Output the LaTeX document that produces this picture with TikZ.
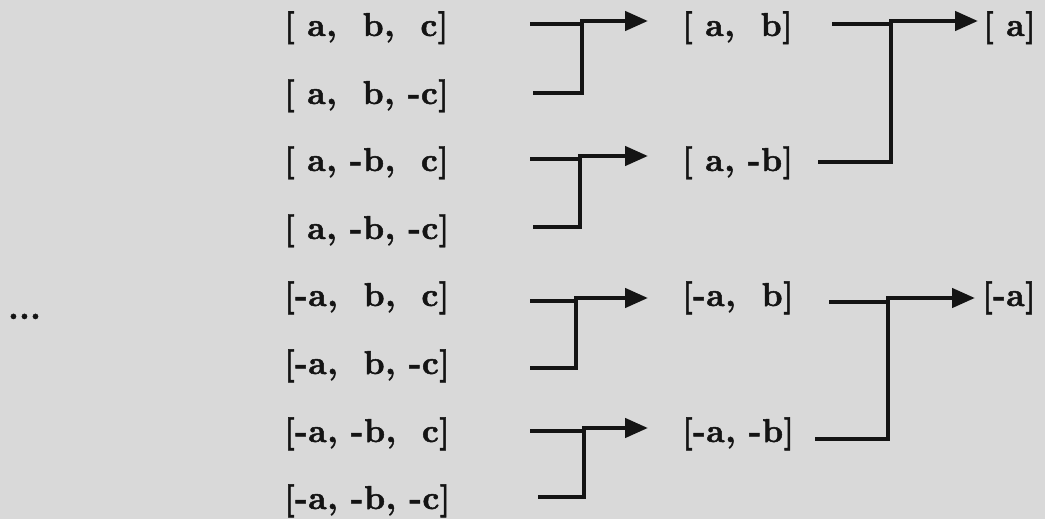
\documentclass[tikz,border=0pt]{standalone}
\usepackage{fontspec}
\usetikzlibrary{arrows.meta}
\newfontfamily\lblfont[LetterSpace=1.5,FakeBold=1.5]{lmroman10-bold.otf}
\newcommand\sgap{\phantom{-}}
\definecolor{paper}{RGB}{217,217,217}
\definecolor{ink}{RGB}{20,20,20}
\tikzset{
  lbl/.style={inner sep=0pt, anchor=base west, text=ink, font=\lblfont\fontsize{33}{33}\selectfont},
  ln/.style={draw=ink, line width=4pt, line join=miter},
  arr/.style={draw=ink, line width=4.5pt, -{Triangle[length=23pt,width=19pt]}}
}
\begin{document}
\begin{tikzpicture}[x=1pt,y=-1pt]
\fill[paper] (0,0) rectangle (1045,519);
\useasboundingbox (0,0) rectangle (1045,519);
% left column
\node[lbl] (l1) at (284,36)  {[\sgap a, \sgap b, \sgap c]};
\node[lbl] (l2) at (284,104) {[\sgap a, \sgap b, -c]};
\node[lbl] (l3) at (284,171) {[\sgap a, -b, \sgap c]};
\node[lbl] (l4) at (284,239) {[\sgap a, -b, -c]};
\node[lbl] (l5) at (284,306) {[-a, \sgap b, \sgap c]};
\node[lbl] (l6) at (284,374) {[-a, \sgap b, -c]};
\node[lbl] (l7) at (284,442) {[-a, -b, \sgap c]};
\node[lbl] (l8) at (284,509) {[-a, -b, -c]};
\node[lbl] (dots) at (8,319) {...};
% middle column
\node[lbl] (m1) at (682,36)  {[\sgap a, \sgap b]};
\node[lbl] (m2) at (682,171) {[\sgap a, -b]};
\node[lbl] (m3) at (682,306) {[-a, \sgap b]};
\node[lbl] (m4) at (682,442) {[-a, -b]};
% right column
\node[lbl] (r1) at (983,36)  {[\sgap a]};
\node[lbl] (r2) at (982,306) {[-a]};
% stage 1 coordinates
\coordinate (s1) at (530,24);  \coordinate (j1) at (582,24);  \coordinate (k1) at (582,21);
\coordinate (u1) at (533,93);  \coordinate (c1) at (582,93);
\coordinate (s2) at (530,159); \coordinate (j2) at (580,159); \coordinate (k2) at (580,156);
\coordinate (u2) at (533,227); \coordinate (c2) at (580,227);
\coordinate (s3) at (530,301); \coordinate (j3) at (576,301); \coordinate (k3) at (576,298);
\coordinate (u3) at (530,368); \coordinate (c3) at (576,368);
\coordinate (s4) at (530,431); \coordinate (j4) at (584,431); \coordinate (k4) at (584,428);
\coordinate (u4) at (538,497); \coordinate (c4) at (584,497);
% stage 2 coordinates
\coordinate (s5) at (832,24);  \coordinate (j5) at (891,24);  \coordinate (k5) at (891,21);
\coordinate (u5) at (818,162); \coordinate (c5) at (891,162);
\coordinate (s6) at (829,302); \coordinate (j6) at (888,302); \coordinate (k6) at (888,298);
\coordinate (u6) at (815,439); \coordinate (c6) at (888,439);
% stage 1 connectors
\foreach \i/\m in {1/m1,2/m2,3/m3,4/m4}{
  \draw[ln] (s\i) -- (j\i);
  \draw[ln] (u\i) -- (c\i) -- (k\i);
  \draw[arr, shorten >=34pt] ([xshift=-2pt]k\i) -- (k\i -| \m.west);
}
% stage 2 connectors
\draw[ln] (s5) -- (j5);
\draw[ln] (u5) -- (c5) -- (k5);
\draw[arr, shorten >=5pt] ([xshift=-2pt]k5) -- (k5 -| r1.west);
\draw[ln] (s6) -- (j6);
\draw[ln] (u6) -- (c6) -- (k6);
\draw[arr, shorten >=7pt] ([xshift=-2pt]k6) -- (k6 -| r2.west);
\end{tikzpicture}
\end{document}
